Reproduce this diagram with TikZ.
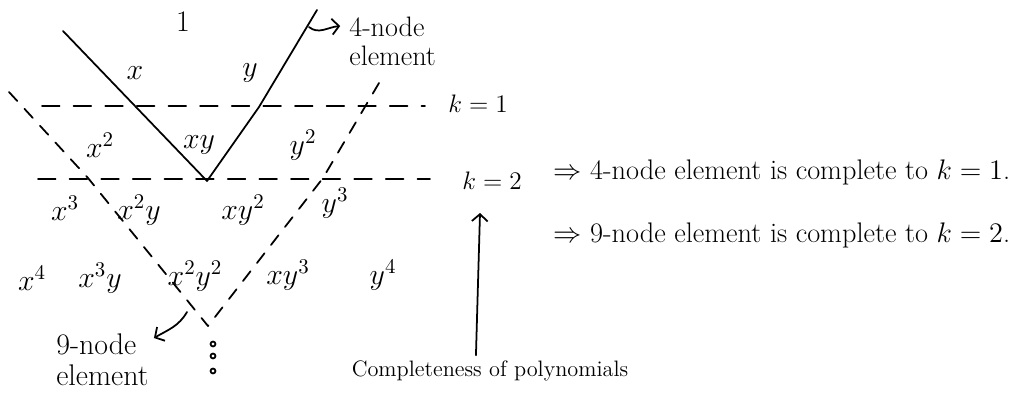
\RequirePackage{fix-cm}
\documentclass[tikz,border=0pt]{standalone}
\usetikzlibrary{arrows.meta}
\begin{document}
\begin{tikzpicture}[x=0.02cm,y=-0.02cm,
  pen/.style={line width=1pt, line cap=round, line join=round},
  kline/.style={pen, dash pattern=on 10pt off 8pt},
  dline/.style={pen, dash pattern=on 7pt off 6pt},
  arr/.style={pen, -{Straight Barb[length=4pt,width=9pt]}},
  lab/.style={inner sep=0pt, font=\fontsize{17}{20}\selectfont},
  klab/.style={inner sep=0pt, font=\fontsize{14.4}{17}\selectfont},
  hand/.style={inner sep=0pt, align=left},
  stmt/.style={inner sep=0pt, anchor=west, font=\fontsize{16.1}{19}\selectfont}]
\useasboundingbox (0,0) rectangle (1017,396);
% key points
\coordinate (ltop) at (63,31);
\coordinate (apex) at (207,181);
\coordinate (rmid) at (259,107);
\coordinate (rtop) at (317,10);
\coordinate (k1a) at (42,106);
\coordinate (k1b) at (425,106);
\coordinate (k2a) at (38,179);
\coordinate (k2b) at (430,179);
\coordinate (dl) at (9,92);
\coordinate (dlmid) at (88,178);
\coordinate (dr) at (379,83);
\coordinate (drmid) at (323,178);
\coordinate (corner) at (208,326);
\coordinate (hook4) at (309,27);
\coordinate (hook9) at (187,312);
\coordinate (comptip) at (480,213);
% 4-node element (solid)
\draw[pen] (ltop) -- (apex) -- (rmid) -- (rtop);
% k lines
\draw[kline] (k1a) -- (k1b);
\draw[kline] (k2a) -- (k2b);
% 9-node element (dashed)
\draw[dline] (dl) -- (dlmid) -- (corner);
\draw[dline] (dr) -- (drmid) -- (corner);
% monomials
\node[lab] (m1) at (183,22) {$1$};
\node[lab] (mx) at (135,73) {$x$};
\node[lab] (my) at (250,73) {$y$};
\node[lab] (mx2) at (100,145) {$x^2$};
\node[lab] (mxy) at (199,145) {$xy$};
\node[lab] (my2) at (303,145) {$y^2$};
\node[lab] (mx3) at (65,208) {$x^3$};
\node[lab] (mx2y) at (139,210) {$x^2y$};
\node[lab] (mxy2) at (243,210) {$xy^2$};
\node[lab] (my3) at (335,203) {$y^3$};
\node[lab] (mx4) at (32,278) {$x^4$};
\node[lab] (mx3y) at (100,278) {$x^3y$};
\node[lab] (mx2y2) at (195,276) {$x^2y^2$};
\node[lab] (mxy3) at (288,275) {$xy^3$};
\node[lab] (my4) at (383,275) {$y^4$};
% k labels
\node[klab] (kone) at (478,104) {$k=1$};
\node[klab] (ktwo) at (492,181) {$k=2$};
% element labels
\node[hand, anchor=west, font=\fontsize{16}{16.5}\selectfont] (n4) at (349,41) {4-node\\element};
\node[hand, anchor=west, font=\fontsize{17}{17.5}\selectfont] (n9) at (56,360) {9-node\\element};
\draw[arr] (hook4) to[out=-40,in=185] ([xshift=-5pt]n4.west |- 0,26);
\draw[arr] (hook9) to[out=-120,in=30] ([xshift=3pt]n9.east |- 0,338);
% dots
\foreach \yy in {344,356,371} \draw[pen] (213,\yy) circle[radius=1.4pt];
% completeness
\node[inner sep=0pt, font=\fontsize{12.7}{15}\selectfont] (comp) at (490,371) {Completeness of polynomials};
\draw[arr] ([xshift=-8pt,yshift=3pt]comp.north) -- (comptip);
% statements
\node[stmt] (s1) at (553,172) {$\Rightarrow$ 4-node element is complete to $k=1$.};
\node[stmt] (s2) at (553,235) {$\Rightarrow$ 9-node element is complete to $k=2$.};
\end{tikzpicture}
\end{document}
